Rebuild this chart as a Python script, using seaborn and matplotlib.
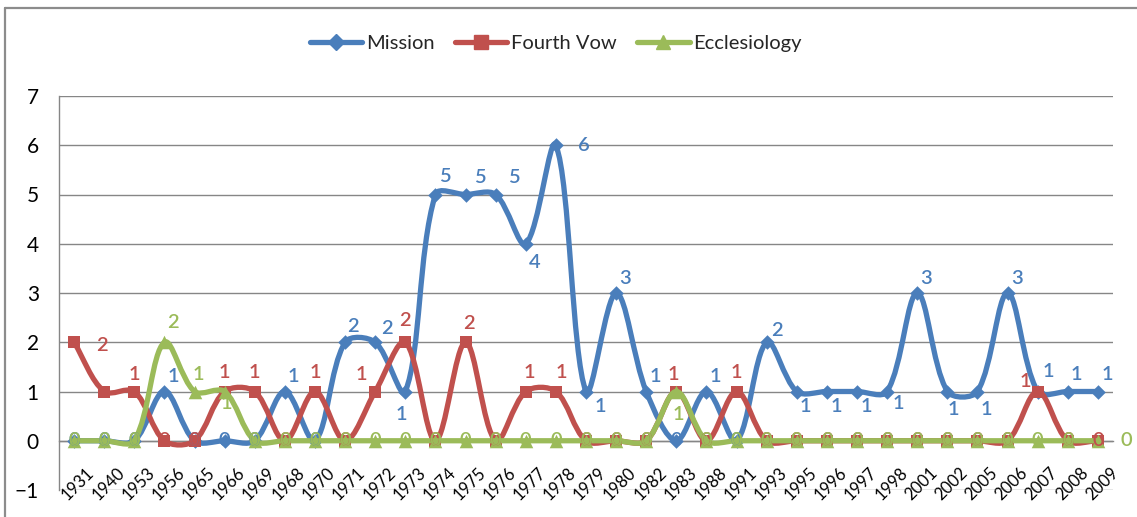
import numpy as np
import pandas as pd
import matplotlib.pyplot as plt
import seaborn as sns
from matplotlib.path import Path
from matplotlib.patches import PathPatch
from matplotlib.lines import Line2D
from matplotlib.transforms import ScaledTranslation

# ---- data ----
years = ['1931', '1940', '1953', '1956', '1965', '1966', '1969', '1968', '1970',
         '1971', '1972', '1973', '1974', '1975', '1976', '1977', '1978', '1979',
         '1980', '1982', '1983', '1988', '1991', '1993', '1995', '1996', '1997',
         '1998', '2001', '2002', '2005', '2006', '2007', '2008', '2009']
mission = [0, 0, 0, 1, 0, 0, 0, 1, 0, 2, 2, 1, 5, 5, 5, 4, 6, 1, 3, 1, 0, 1, 0, 2,
           1, 1, 1, 1, 3, 1, 1, 3, 1, 1, 1]
fourth_vow = [2, 1, 1, 0, 0, 1, 1, 0, 1, 0, 1, 2, 0, 2, 0, 1, 1, 0, 0, 0, 1, 0, 1, 0,
              0, 0, 0, 0, 0, 0, 0, 0, 1, 0, 0]
ecclesiology = [0, 0, 0, 2, 1, 1, 0, 0, 0, 0, 0, 0, 0, 0, 0, 0, 0, 0, 0, 0, 1, 0, 0, 0,
                0, 0, 0, 0, 0, 0, 0, 0, 0, 0, 0]
series_names = ['Mission', 'Fourth Vow', 'Ecclesiology']

colors = {'Mission': '#4a7ebb', 'Fourth Vow': '#c0504d', 'Ecclesiology': '#9bbb59'}
markers = {'Mission': 'D', 'Fourth Vow': 's', 'Ecclesiology': '^'}
msizes = {'Mission': 55, 'Fourth Vow': 75, 'Ecclesiology': 95}

# label offsets in pixels (dx right, dy down); default for non-zero is up-right
label_default = (9, -15)
label_offsets = {
    'Mission': {9: (8, -16), 10: (12, -14), 11: (-4, 23), 12: (9, -18), 13: (14, -17),
                14: (18, -17), 15: (9, 19), 16: (28, 0), 17: (14, 15), 18: (9, -14),
                23: (10, -12), 24: (9, 15), 25: (9, 15), 26: (9, 15), 27: (11, 12),
                28: (9, -14), 29: (6, 18), 30: (9, 18), 31: (9, -14), 32: (11, -20),
                33: (9, -17), 34: (9, -17)},
    'Fourth Vow': {0: (28, 3), 1: None, 2: (0, -17), 5: (0, -19), 6: (0, -19),
                   8: (0, -19), 10: (-14, -17), 11: (0, -22), 13: (3, -19),
                   15: (4, -19), 16: (6, -19), 20: (-3, -17), 22: (0, -19),
                   32: (-12, -10)},
    'Ecclesiology': {3: (9, -20), 4: (4, -17), 5: (2, 12), 20: (2, 23), 34: (28, 0)},
}

df = pd.DataFrame({
    'pos': np.tile(np.arange(len(years)), 3),
    'value': mission + fourth_vow + ecclesiology,
    'series': np.repeat(series_names, len(years)),
})

W, H = 1137, 517
PX_X, PX_Y = 30.1, 49.4   # pixels per category / per unit, used for smoothing


def smooth_path(xs, ys):
    # Excel-like smoothed line: Bezier segments, tangents weighted by chord length
    pts = np.column_stack([xs, ys]).astype(float)
    scale = np.array([PX_X, PX_Y])
    n = len(pts)
    verts = [pts[0]]
    codes = [Path.MOVETO]

    def dist(a, b):
        return np.hypot(*((b - a) * scale))

    for i in range(n - 1):
        p0 = pts[i - 1] if i > 0 else pts[i]
        p1, p2 = pts[i], pts[i + 1]
        p3 = pts[i + 2] if i + 2 < n else pts[i + 1]
        d01, d12, d23 = dist(p0, p1), dist(p1, p2), dist(p2, p3)
        c1 = p1 + (p2 - p0) * d12 / (3 * (d01 + d12)) if d01 + d12 > 0 else p1
        c2 = p2 - (p3 - p1) * d12 / (3 * (d12 + d23)) if d12 + d23 > 0 else p2
        verts += [c1, c2, p2]
        codes += [Path.CURVE4] * 3
    return Path(verts, codes)


sns.set_theme(style='white')
plt.rcParams['font.family'] = ['Lato', 'DejaVu Sans']

fig = plt.figure(figsize=(W / 100, H / 100), dpi=100)
ax = fig.add_axes([59 / W, 1 - 490 / H, (1113 - 59) / W, (490 - 96) / H])

for k, name in enumerate(series_names):
    sub = df[df['series'] == name]
    ax.add_patch(PathPatch(smooth_path(sub['pos'].values, sub['value'].values),
                           facecolor='none', edgecolor=colors[name], lw=3.8,
                           capstyle='round', joinstyle='round', zorder=3 + 2 * k))
    sns.scatterplot(data=sub, x='pos', y='value', marker=markers[name],
                    s=msizes[name], color=colors[name], edgecolor=colors[name],
                    linewidth=0, legend=False, ax=ax, zorder=4 + 2 * k)

# data labels
for name in series_names:
    sub = df[df['series'] == name]
    for p, v in zip(sub['pos'], sub['value']):
        off = label_offsets[name].get(p, label_default if v != 0 else (0, 0))
        if off is None:
            continue
        ax.annotate(str(v), (p, v), xytext=(off[0] * 0.72, -off[1] * 0.72),
                    textcoords='offset points', ha='center', va='center',
                    color=colors[name], fontsize=14.5, fontweight='semibold', zorder=20)

grey = '#868686'
for s in ['top', 'right']:
    ax.spines[s].set_visible(False)
ax.spines['left'].set_color(grey)
ax.spines['left'].set_linewidth(1)
ax.spines['bottom'].set_position(('data', 0))
ax.spines['bottom'].set_color(grey)
ax.spines['bottom'].set_linewidth(1)

ax.set_xlim(-0.5, len(years) - 0.5)
ax.set_ylim(-1, 7)
ax.set_yticks(range(-1, 8))
ax.set_xticks(np.arange(len(years)))
ax.set_xticks(np.arange(-0.5, len(years), 1), minor=True)
ax.set_xticklabels(years, fontsize=12, color='black')
ax.set_xlabel('')
ax.set_ylabel('')
ax.grid(axis='y', color=grey, lw=1)
ax.grid(axis='x', visible=False)

ax.tick_params(axis='x', which='major', length=0, pad=0, labelrotation=45)
ax.tick_params(axis='x', which='minor', length=4, width=1, color=grey, direction='out')
ax.tick_params(axis='y', length=4.5, width=1, color=grey, direction='out',
               labelsize=15, labelcolor='black', pad=10)

fig.canvas.draw()
# anchor the top-right of each rotated year label below / right of its category
shift = ScaledTranslation(0.12, -0.24, fig.dpi_scale_trans)
for lbl in ax.get_xticklabels():
    lbl.set_ha('right')
    lbl.set_va('top')
    lbl.set_rotation_mode('anchor')
    lbl.set_transform(lbl.get_transform() + shift)

handles = [Line2D([], [], color=colors[n], lw=3.8, marker=markers[n],
                  markersize=8 if n == 'Mission' else 10) for n in series_names]
fig.legend(handles, series_names, loc='center', bbox_to_anchor=(0.489, 0.915),
           ncol=3, frameon=False, fontsize=14.5, handlelength=2.6,
           handletextpad=0.2, columnspacing=1.0)

# chart frame (left and top edges visible in the crop)
fig.add_artist(Line2D([5 / W, 5 / W], [0, 1 - 8 / H], transform=fig.transFigure,
                      color='#8c8c8c', lw=1.6))
fig.add_artist(Line2D([5 / W, 1], [1 - 8 / H, 1 - 8 / H], transform=fig.transFigure,
                      color='#8c8c8c', lw=1.6))

fig.savefig('out.png', dpi=100)
